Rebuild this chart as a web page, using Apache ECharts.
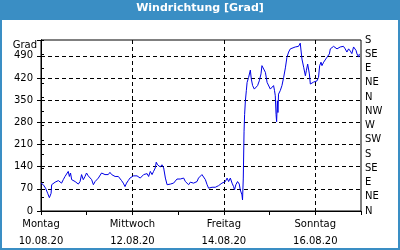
<!DOCTYPE html>
<html><head><meta charset="utf-8">
<script src="https://cdn.jsdelivr.net/npm/echarts@6/dist/echarts.min.js"></script>
<style>html,body{margin:0;padding:0;background:#fff}
#wrap{position:relative;width:400px;height:250px}
#c{width:400px;height:250px}
#frame{position:absolute;left:0;top:0;width:400px;height:250px;box-sizing:border-box;border:2px solid #3a8ec4;pointer-events:none}
</style>
</head><body><div id="wrap"><div id="c"></div><div id="frame"></div></div>
<script>
// hours since Montag 10.08.20 00:00
const hours = [0,1.2,2.4,3.5,4.4,5.3,5.6,5.9,7.4,8.2,9.1,10.0,10.8,11.7,12.6,13.4,14.3,14.9,15.5,16.1,17.0,17.9,18.7,19.6,20.5,21.3,22.2,23.1,23.9,24.8,25.7,26.6,27.5,28.4,29.2,30.1,31.0,31.8,32.7,33.6,34.4,35.3,36.2,37.1,38.0,38.9,39.7,40.6,41.5,42.3,43.2,44.1,44.9,45.8,46.7,47.6,
48.6,50.4,51.2,52.1,53.0,53.9,54.8,55.7,56.5,57.4,58.3,59.1,60.0,60.5,61.2,61.9,62.6,63.5,64.4,65.3,66.2,67.0,67.9,68.8,69.6,70.5,71.4,72.2,73.1,74.0,74.9,75.8,76.7,77.5,78.4,79.3,80.1,81.0,81.9,82.7,83.6,84.5,85.4,86.3,87.2,88.0,88.9,89.8,90.6,91.5,92.4,93.2,94.1,95.0,95.9,96.8,97.7,98.5,
99.4,100.3,101.1,101.6,102.3,103.2,104.1,104.6,105.2,105.5,105.8,106.2,106.6,106.9,107.3,107.8,108.2,109.0,109.5,109.9,110.4,111.1,112.0,112.9,113.7,114.6,115.5,116.0,116.9,117.8,118.7,119.5,120.4,121.3,122.1,122.6,123.0,123.4,123.7,124.1,124.4,124.7,125.6,126.5,127.4,128.3,129.1,130.0,130.9,131.8,133.5,134.4,135.2,136.1,136.7,137.0,137.9,138.8,139.3,140.0,140.5,140.9,141.4,142.3,143.1,144.0,144.9,145.7,146.3,147.0,147.5,148.4,149.3,150.2,150.7,151.4,151.9,152.8,153.6,154.5,155.4,156.2,157.1,158.0,158.8,159.7,160.6,161.5,162.4,163.2,164.1,164.6,165.4,165.9,166.8,167.1];
// Windrichtung in Grad
const values = [88,83,72,56,42,56,83,88,91,88,96,102,88,99,109,104,125,109,120,99,104,93,88,85,93,115,99,109,120,111,115,99,83,93,99,104,109,120,115,115,109,115,122,115,118,109,104,109,104,96,88,77,88,96,104,109,
111,111,107,104,104,115,120,118,109,125,115,125,136,154,146,150,139,146,136,104,83,80,85,91,88,93,101,99,101,99,104,93,88,83,91,93,88,83,93,104,109,115,120,99,83,72,69,75,72,75,77,80,83,88,85,93,104,93,
104,88,77,67,83,93,85,67,72,51,35,104,252,305,348,380,406,422,427,445,417,396,385,385,396,411,433,459,454,438,406,401,385,390,396,380,364,305,282,348,311,369,380,396,422,452,485,502,512,518,518,512,520,530,527,480,454,427,443,464,470,433,401,406,407,411,411,422,459,470,459,470,475,486,480,496,512,512,520,526,512,516,518,523,520,512,502,512,505,497,518,523,507,496,486,496];

const xTickHours = [0,48,96,144];
const xTickLabels = ['Montag\n10.08.20','Mittwoch\n12.08.20','Freitag\n14.08.20','Sonntag\n16.08.20'];
const compassLabels = ['N','NE','E','SE','S','SW','W','NW','N','NE','E','SE','S'];
const titleText = 'Windrichtung [Grad]';
const yName = 'Grad';

const FONT = 'DejaVu Sans';
const chart = echarts.init(document.getElementById('c'), null, {renderer:'canvas'});
const lbl = {color:'#000', fontFamily:FONT, fontSize:10};
const dash = {color:'#000', type:[4,3], width:1};
chart.setOption({
  animation:false,
  backgroundColor:'#fff',
  graphic:[
    {type:'rect', left:0, top:0, shape:{width:400,height:20}, style:{fill:'#3a8ec4'}, z:1}
  ],
  title:{text:titleText, left:'center', top:3, padding:0,
    textStyle:{color:'#fff', fontFamily:FONT, fontSize:11, fontWeight:'bold'}},
  grid:{left:41, right:39, top:40, bottom:39, show:true, borderColor:'#000', borderWidth:1, backgroundColor:'transparent'},
  xAxis:[{
    type:'value', min:0, max:168, interval:48,
    axisLine:{show:true, lineStyle:{color:'#000'}},
    axisTick:{show:false},
    axisLabel:{...lbl, margin:5, lineHeight:17,
      formatter:v=>{const i=xTickHours.indexOf(v); return i>=0?xTickLabels[i]:'';}},
    splitLine:{show:true, showMinLine:false, showMaxLine:false, lineStyle:dash}
  },{
    type:'value', min:0, max:168, interval:24, position:'bottom',
    axisLine:{show:false}, axisLabel:{show:false}, splitLine:{show:false},
    axisTick:{show:true, length:4, lineStyle:{color:'#000'}}
  }],
  yAxis:[{
    type:'value', min:0, max:540, interval:70, position:'left',
    name:yName, nameLocation:'end', nameGap:0,
    nameTextStyle:{...lbl, align:'right', verticalAlign:'top', padding:[0,4,0,0]},
    axisLine:{show:true, lineStyle:{color:'#000'}},
    axisTick:{show:true, length:4, lineStyle:{color:'#000'}},
    axisLabel:{...lbl, margin:8, formatter:v=> v>=540?'':String(v)},
    splitLine:{show:true, showMinLine:false, showMaxLine:false, lineStyle:dash}
  },{
    type:'value', min:0, max:540, interval:45, position:'right',
    axisLine:{show:true, lineStyle:{color:'#000'}},
    axisTick:{show:true, length:3, lineStyle:{color:'#000'}},
    axisLabel:{...lbl, margin:4, formatter:v=>compassLabels[Math.round(v/45)]||''},
    splitLine:{show:false}
  }],
  series:[{
    type:'line', xAxisIndex:0, yAxisIndex:0,
    data:hours.map((h,i)=>[h,values[i]]),
    showSymbol:false, symbol:'none',
    lineStyle:{color:'#0000e6', width:1}
  }]
});
</script></body></html>
